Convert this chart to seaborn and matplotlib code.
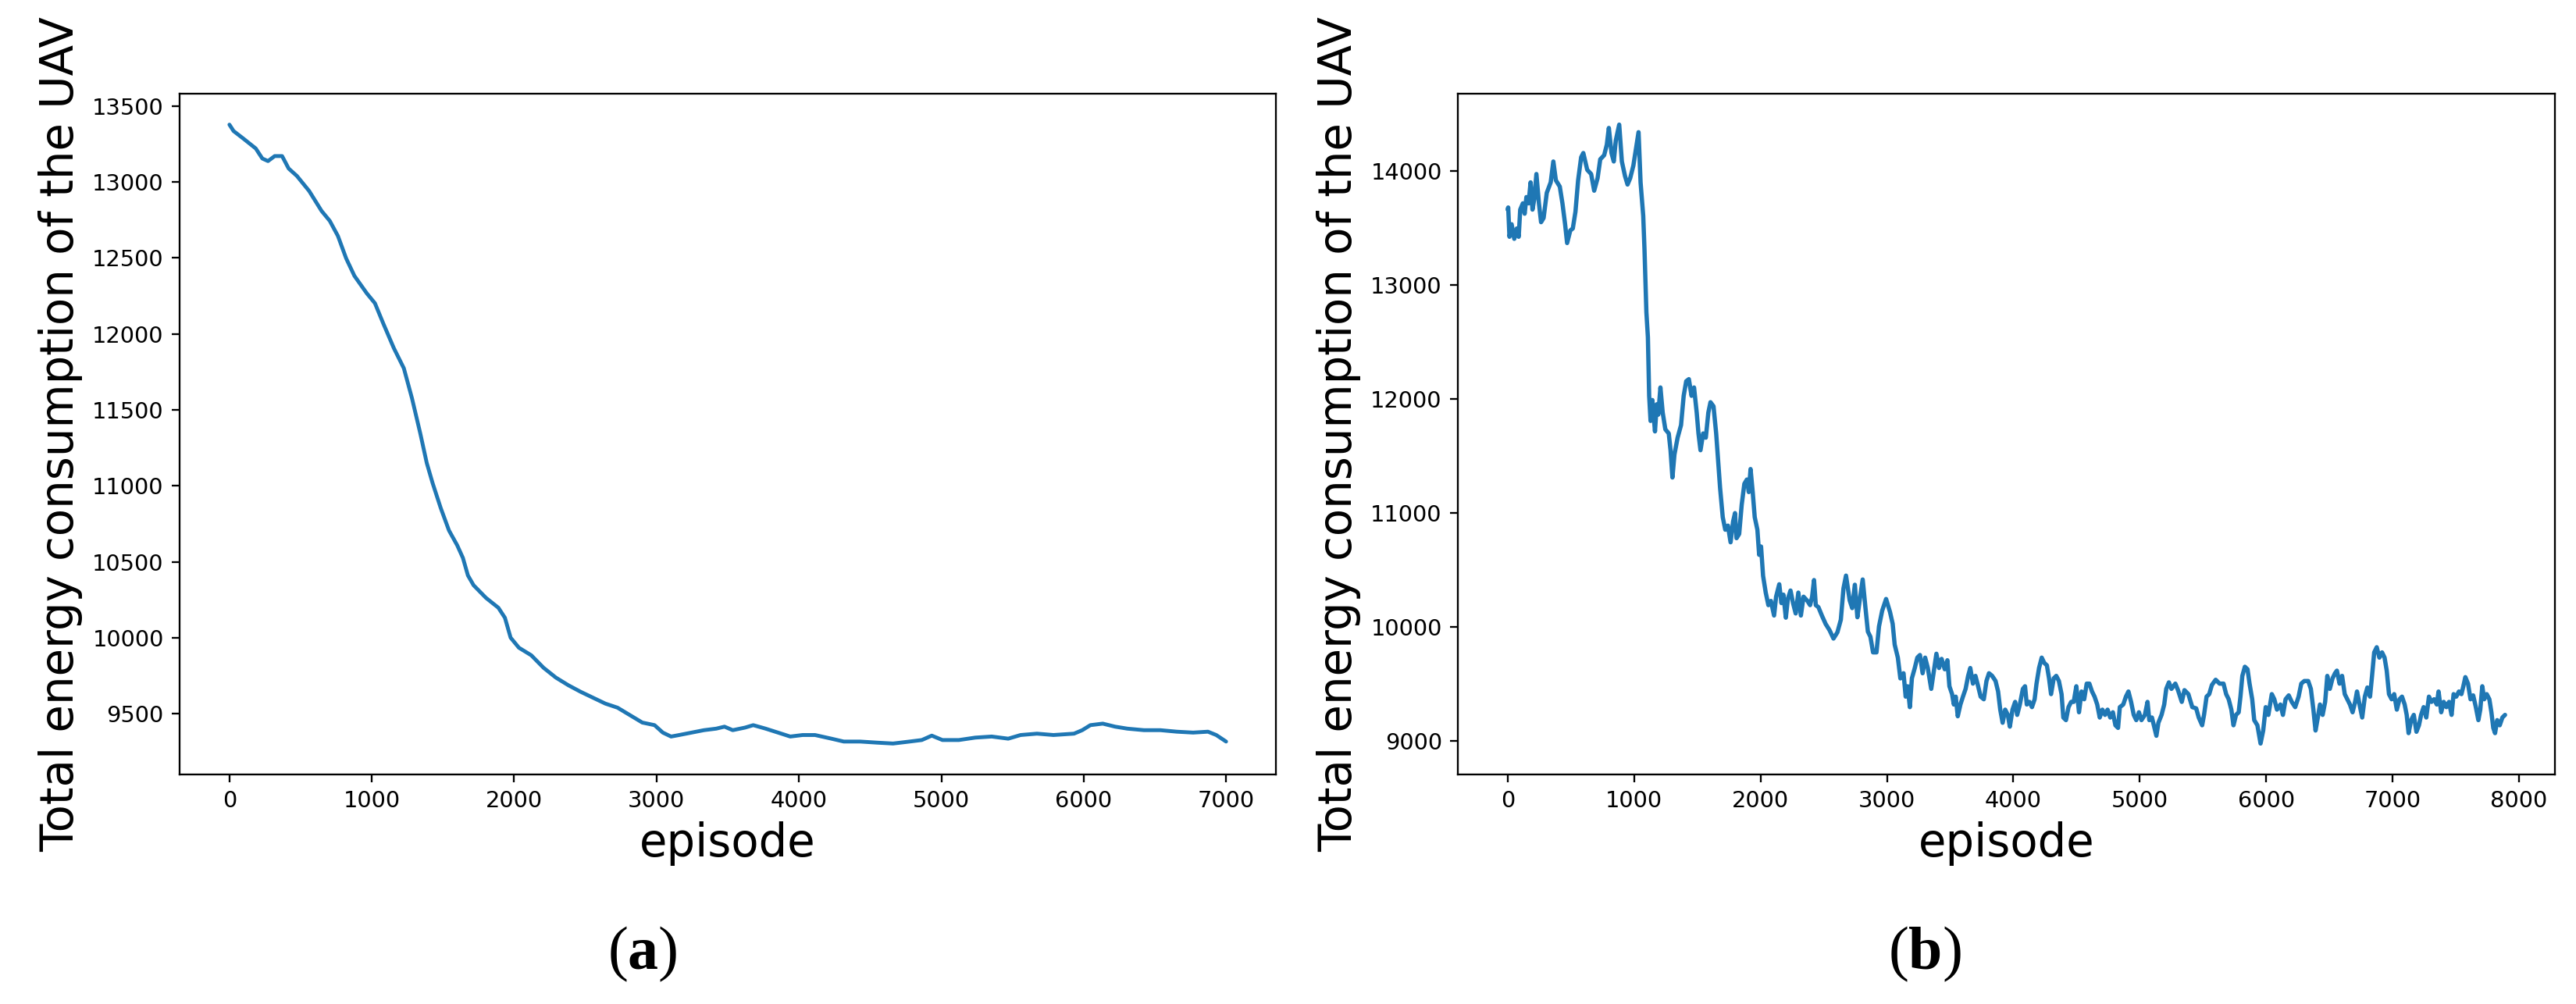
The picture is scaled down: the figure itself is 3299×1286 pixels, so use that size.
import matplotlib
matplotlib.use('Agg')
import matplotlib.pyplot as plt
import seaborn as sns

# values
# (a) smooth curve
ep_a = [0, 29, 98, 185, 231, 271, 318, 370, 416, 474, 560, 647, 705, 762, 820, 878,
        965, 1022, 1080, 1155, 1225, 1282, 1340, 1386, 1427, 1484, 1542, 1600, 1640,
        1675, 1715, 1802, 1889, 1935, 1975, 2033, 2120, 2206, 2293, 2380, 2466, 2553,
        2640, 2726, 2813, 2900, 2986, 3044, 3102, 3159, 3246, 3333, 3419, 3477, 3535,
        3622, 3679, 3766, 3853, 3939, 4026, 4113, 4228, 4315, 4430, 4546, 4661, 4777,
        4863, 4933, 5008, 5123, 5239, 5354, 5470, 5557, 5672, 5788, 5932, 5990, 6047,
        6134, 6221, 6307, 6423, 6538, 6654, 6769, 6873, 6931, 7000]
energy_a = [13378, 13336, 13286, 13221, 13155, 13138, 13171, 13171, 13089, 13040, 12941,
            12810, 12744, 12645, 12497, 12382, 12267, 12202, 12070, 11906, 11774, 11577,
            11347, 11150, 11018, 10854, 10706, 10608, 10525, 10410, 10345, 10262, 10197,
            10131, 10000, 9934, 9884, 9802, 9737, 9687, 9644, 9605, 9566, 9539, 9490,
            9441, 9424, 9375, 9349, 9359, 9375, 9391, 9401, 9414, 9391, 9408, 9424, 9401,
            9375, 9349, 9359, 9359, 9335, 9316, 9316, 9309, 9303, 9316, 9326, 9355, 9326,
            9326, 9342, 9349, 9335, 9359, 9368, 9359, 9368, 9391, 9424, 9434, 9414, 9401,
            9391, 9391, 9381, 9375, 9381, 9359, 9316]

# (b) noisy curve
ep_b = [0, 4, 14, 31, 52, 72, 87, 99, 120, 134, 148, 165, 181, 196, 210, 227, 247, 264,
        284, 309, 340, 361, 381, 412, 433, 454, 470, 495, 515, 536, 557, 581, 598, 629,
        660, 684, 711, 732, 763, 784, 800, 821, 839, 855, 882, 903, 928, 948, 969, 994,
        1020, 1035, 1051, 1072, 1082, 1097, 1109, 1119, 1130, 1144, 1165, 1179, 1191,
        1208, 1226, 1247, 1274, 1288, 1303, 1319, 1344, 1371, 1392, 1412, 1433, 1454,
        1474, 1495, 1509, 1525, 1546, 1567, 1587, 1604, 1628, 1649, 1666, 1680, 1701,
        1721, 1742, 1763, 1783, 1798, 1810, 1831, 1851, 1872, 1892, 1907, 1921, 1938,
        1954, 1975, 1989, 2004, 2020, 2041, 2062, 2082, 2107, 2123, 2148, 2165, 2181,
        2200, 2216, 2237, 2257, 2278, 2299, 2319, 2340, 2371, 2392, 2408, 2423, 2437,
        2458, 2485, 2515, 2546, 2577, 2608, 2635, 2656, 2676, 2705, 2725, 2746, 2766,
        2787, 2808, 2828, 2849, 2869, 2890, 2917, 2937, 2962, 2993, 3024, 3045, 3061,
        3086, 3106, 3131, 3148, 3164, 3181, 3197, 3220, 3240, 3261, 3282, 3302, 3323,
        3350, 3374, 3391, 3412, 3432, 3457, 3478, 3494, 3515, 3529, 3544, 3560, 3581,
        3601, 3622, 3642, 3659, 3680, 3700, 3721, 3741, 3766, 3787, 3807, 3832, 3859,
        3879, 3896, 3915, 3935, 3956, 3972, 3993, 4014, 4030, 4051, 4075, 4092, 4106,
        4127, 4147, 4168, 4183, 4203, 4224, 4244, 4265, 4282, 4298, 4319, 4339, 4360,
        4381, 4395, 4416, 4436, 4457, 4477, 4498, 4519, 4539, 4560, 4580, 4601, 4622,
        4642, 4663, 4683, 4704, 4725, 4745, 4766, 4787, 4807, 4828, 4842, 4869, 4890,
        4910, 4931, 4952, 4972, 4993, 5013, 5040, 5061, 5075, 5096, 5116, 5131, 5147,
        5172, 5193, 5209, 5230, 5250, 5281, 5302, 5332, 5353, 5384, 5415, 5446, 5466,
        5493, 5508, 5528, 5549, 5570, 5600, 5631, 5662, 5683, 5703, 5724, 5741, 5761,
        5782, 5796, 5811, 5831, 5852, 5868, 5889, 5905, 5930, 5955, 5976, 5996, 6017,
        6044, 6064, 6085, 6112, 6132, 6153, 6178, 6202, 6229, 6256, 6277, 6301, 6332,
        6353, 6373, 6390, 6408, 6425, 6446, 6466, 6483, 6503, 6524, 6544, 6559, 6580,
        6600, 6621, 6641, 6662, 6683, 6703, 6718, 6738, 6759, 6780, 6800, 6821, 6837,
        6854, 6874, 6895, 6916, 6936, 6953, 6971, 6992, 7012, 7033, 7054, 7074, 7095,
        7111, 7126, 7146, 7167, 7188, 7208, 7225, 7245, 7266, 7287, 7307, 7328, 7349,
        7363, 7384, 7404, 7425, 7446, 7466, 7482, 7503, 7524, 7544, 7559, 7575, 7596,
        7616, 7637, 7658, 7678, 7693, 7709, 7724, 7744, 7765, 7781, 7796, 7810, 7827,
        7847, 7868, 7889]
energy_b = [13660, 13679, 13422, 13532, 13404, 13495, 13422, 13660, 13715, 13624, 13770,
            13715, 13899, 13660, 13752, 13972, 13715, 13550, 13587, 13807, 13899, 14082,
            13917, 13862, 13715, 13532, 13367, 13477, 13495, 13642, 13917, 14119, 14156,
            14009, 13972, 13826, 13936, 14101, 14137, 14229, 14376, 14156, 14082, 14266,
            14405, 14082, 13954, 13880, 13936, 14046, 14229, 14339, 13899, 13605, 13312,
            12761, 12541, 12028, 11808, 11991, 11716, 11954, 11863, 12101, 11881, 11734,
            11698, 11551, 11312, 11514, 11661, 11771, 12028, 12156, 12174, 12028, 12101,
            11881, 11698, 11551, 11698, 11661, 11881, 11972, 11936, 11698, 11441, 11220,
            10964, 10854, 10890, 10744, 10927, 11000, 10780, 10817, 11074, 11257, 11294,
            11184, 11386, 11184, 10964, 10854, 10634, 10707, 10450, 10303, 10193, 10230,
            10102, 10267, 10376, 10211, 10285, 10083, 10248, 10321, 10211, 10120, 10303,
            10102, 10267, 10230, 10193, 10267, 10413, 10193, 10175, 10102, 10028, 9973,
            9900, 9955, 10065, 10340, 10452, 10235, 10167, 10372, 10087, 10258, 10418,
            10190, 9961, 9916, 9779, 9779, 10007, 10144, 10247, 10133, 10030, 9847, 9733,
            9551, 9596, 9391, 9482, 9299, 9551, 9642, 9733, 9756, 9596, 9733, 9642, 9459,
            9642, 9767, 9642, 9722, 9631, 9710, 9482, 9413, 9322, 9391, 9219, 9322, 9391,
            9459, 9573, 9642, 9505, 9573, 9482, 9391, 9368, 9528, 9596, 9573, 9528, 9436,
            9277, 9162, 9277, 9231, 9128, 9277, 9345, 9231, 9322, 9459, 9482, 9322, 9345,
            9299, 9368, 9505, 9642, 9733, 9687, 9665, 9551, 9413, 9551, 9573, 9528, 9413,
            9208, 9185, 9299, 9345, 9345, 9482, 9254, 9436, 9368, 9505, 9505, 9436, 9391,
            9322, 9208, 9277, 9231, 9277, 9208, 9254, 9140, 9117, 9299, 9322, 9391, 9436,
            9345, 9231, 9185, 9254, 9185, 9231, 9345, 9185, 9208, 9117, 9048, 9162, 9231,
            9322, 9459, 9516, 9459, 9505, 9448, 9345, 9448, 9413, 9299, 9288, 9208, 9140,
            9231, 9391, 9413, 9493, 9539, 9505, 9505, 9413, 9368, 9277, 9140, 9231, 9254,
            9391, 9573, 9653, 9631, 9505, 9368, 9185, 9140, 8980, 9094, 9299, 9231, 9413,
            9368, 9277, 9322, 9231, 9368, 9402, 9345, 9299, 9391, 9505, 9528, 9528, 9459,
            9277, 9094, 9208, 9322, 9231, 9345, 9573, 9459, 9550, 9596, 9619, 9505, 9573,
            9413, 9368, 9322, 9254, 9345, 9436, 9322, 9208, 9391, 9471, 9391, 9573, 9779,
            9824, 9733, 9779, 9733, 9619, 9413, 9368, 9413, 9277, 9368, 9391, 9322, 9231,
            9071, 9185, 9231, 9083, 9140, 9231, 9299, 9208, 9391, 9345, 9368, 9322, 9436,
            9254, 9345, 9299, 9345, 9231, 9413, 9391, 9436, 9413, 9482, 9562, 9505, 9368,
            9402, 9299, 9185, 9277, 9482, 9368, 9413, 9368, 9254, 9117, 9071, 9185, 9140,
            9208, 9231]

ylabel = 'Total energy consumption of the UAV'
xlabel = 'episode'
captions = ['a', 'b']

sns.set_style('ticks', {'axes.edgecolor': 'black', 'xtick.color': 'black',
                        'ytick.color': 'black', 'text.color': 'black',
                        'axes.labelcolor': 'black'})
plt.rcParams['font.family'] = ['DejaVu Sans']
plt.rcParams['mathtext.fontset'] = 'custom'
plt.rcParams['mathtext.rm'] = 'Liberation Serif'
plt.rcParams['mathtext.bf'] = 'Liberation Serif:bold'

W, H = 3299, 1286
dpi = 208
fig = plt.figure(figsize=(W / dpi, H / dpi), dpi=dpi)

ax_a = fig.add_axes([230 / W, 1 - 992 / H, 1404 / W, 872 / H])
ax_b = fig.add_axes([1867 / W, 1 - 992 / H, 1405 / W, 872 / H])

sns.lineplot(x=ep_a, y=energy_a, ax=ax_a, color='#1f77b4', lw=1.7)
sns.lineplot(x=ep_b, y=energy_b, ax=ax_b, color='#1f77b4', lw=1.9)

for ax in (ax_a, ax_b):
    ax.set_xlabel(xlabel, fontsize=20)
    ax.set_ylabel(ylabel, fontsize=20)
    ax.tick_params(labelsize=10)

# sub-figure captions
fig.text(823 / W, 1 - 1222 / H, r'$(\mathbf{%s})$' % captions[0], ha='center',
         va='center', fontsize=27)
fig.text(2465 / W, 1 - 1222 / H, r'$(\mathbf{%s})$' % captions[1], ha='center',
         va='center', fontsize=27)

fig.savefig('out.png', dpi=dpi)
